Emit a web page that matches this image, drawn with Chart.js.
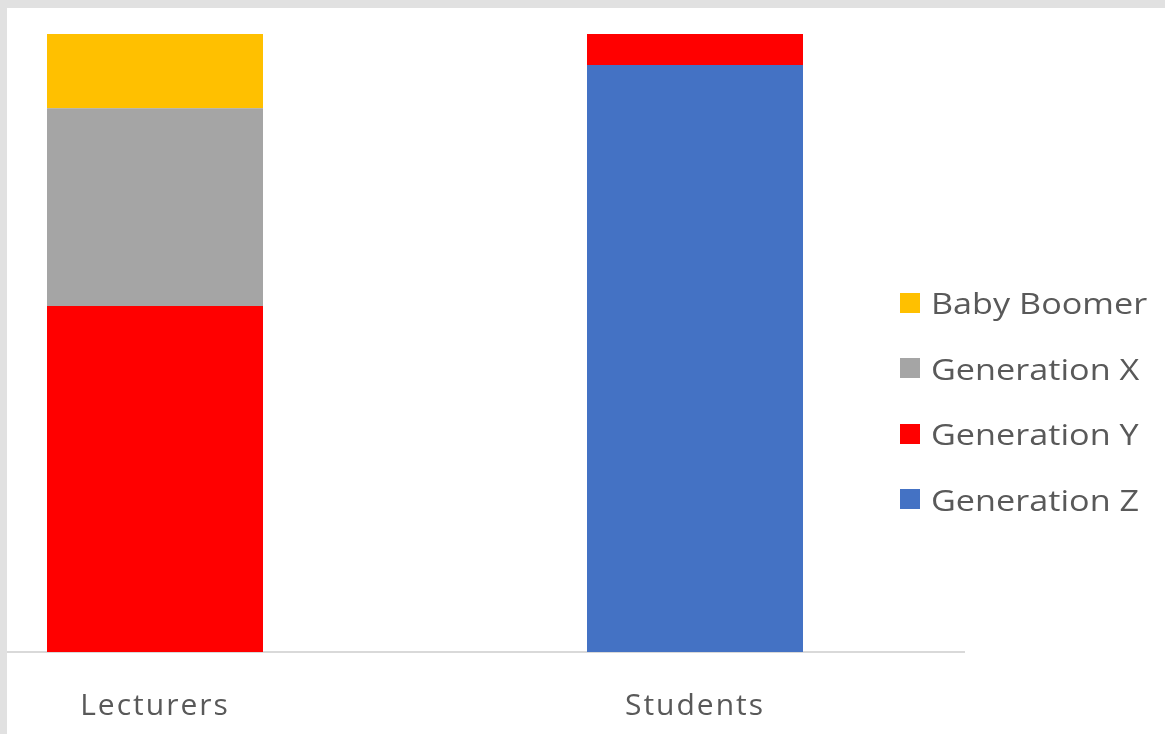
<!DOCTYPE html>
<html>
<head>
<meta charset="utf-8">
<script src="https://cdn.jsdelivr.net/npm/chart.js@4.4.0/dist/chart.umd.min.js"></script>
<style>
    html, body { margin: 0; padding: 0; width: 1165px; height: 734px; overflow: hidden; background: #e1e1e1; }
    #frame { position: absolute; left: 7px; top: 8px; width: 1158px; height: 726px; background: #fff; overflow: hidden; }
    #wrap { position: absolute; left: -122px; top: 26px; }
    #legend { position: absolute; left: 893px; top: 262px; font-family: 'Open Sans', sans-serif; font-size: 30px; color: #595959; }
    .item { display: flex; align-items: center; height: 65.5px; white-space: nowrap; }
    .box { width: 20px; height: 20px; margin-right: 11px; flex: none; }
    .txt { display: inline-block; transform: scaleX(1.14); transform-origin: left center; }
</style>
</head>
<body>
<div id="frame">
    <div id="wrap"><canvas id="genChart" width="1080" height="726"></canvas></div>
    <div id="legend"></div>
</div>
<script>
const categories = ['Lecturers', 'Students'];
const seriesNames = ['Generation Z', 'Generation Y', 'Generation X', 'Baby Boomer'];
const genZ = [0, 95];
const genY = [56, 5];
const genX = [32, 0];
const babyBoomer = [12, 0];
const seriesColors = ['#4472C4', '#FF0000', '#A5A5A5', '#FFC000'];

const values = [genZ, genY, genX, babyBoomer];
const datasets = seriesNames.map((name, i) => ({
    label: name,
    data: values[i],
    backgroundColor: seriesColors[i],
    borderWidth: 0,
    categoryPercentage: 1,
    barPercentage: 0.4
}));

// the labels in the picture are a bit wide, so space the letters out
const wideText = {
    id: 'wideText',
    beforeInit(chart) { chart.ctx.letterSpacing = '2px'; },
    beforeDraw(chart) { chart.ctx.letterSpacing = '2px'; }
};

const ctx = document.getElementById('genChart').getContext('2d');
const genChart = new Chart(ctx, {
    type: 'bar',
    data: { labels: categories, datasets: datasets },
    plugins: [wideText],
    options: {
        responsive: false,
        animation: false,
        devicePixelRatio: 1,
        layout: { padding: 0 },
        plugins: { legend: { display: false }, tooltip: { enabled: false } },
        scales: {
            x: {
                stacked: true,
                grid: { display: false, drawTicks: false, tickLength: 0 },
                border: { display: true, color: '#d9d9d9', width: 2 },
                ticks: { color: '#595959', padding: 36, font: { family: 'Open Sans', size: 30 } }
            },
            y: { stacked: true, display: false, min: 0, max: 100 }
        }
    }
});

// legend in reverse order, like the stacking
const legendDiv = document.getElementById('legend');
legendDiv.innerHTML = genChart.data.datasets.slice().reverse().map(d =>
    `<div class="item"><span class="box" style="background:${d.backgroundColor}"></span><span class="txt">${d.label}</span></div>`
).join('');
</script>
</body>
</html>
